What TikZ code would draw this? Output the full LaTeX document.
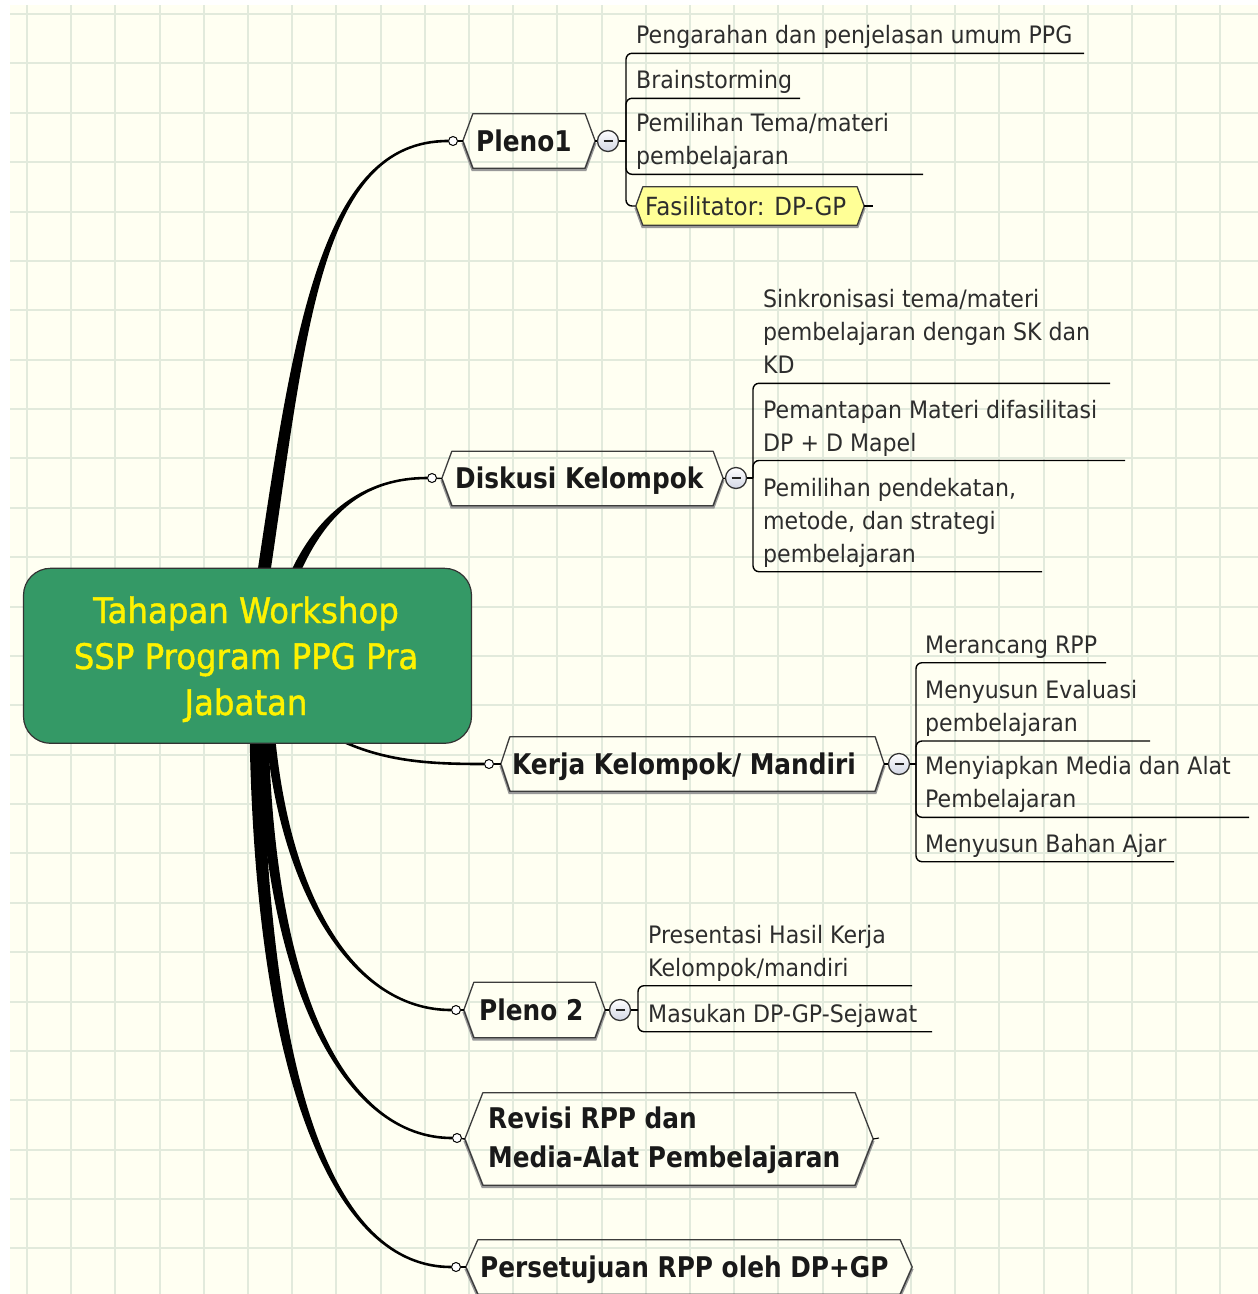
\documentclass[tikz,border=0pt]{standalone}
\usepackage{fontspec}
\setmainfont{DejaVu Sans}
\newfontfamily\rf[FakeStretch=0.92]{DejaVu Sans}
\newfontfamily\rootf[FakeStretch=0.92,FakeBold=1.2]{DejaVu Sans}
\newfontfamily\bfam[FakeStretch=0.87]{DejaVu Sans}
\usetikzlibrary{calc}
\definecolor{cream}{RGB}{255,255,242}
\definecolor{gridc}{RGB}{226,234,220}
\definecolor{rootg}{RGB}{52,153,102}
\definecolor{hexc}{RGB}{60,60,60}
\definecolor{leaftxt}{RGB}{45,45,45}
\definecolor{fasy}{RGB}{255,255,150}
\definecolor{minusc}{RGB}{210,214,228}
\newcommand\ml[1]{\begin{tabular}[b]{@{}l@{}}#1\end{tabular}}
\newcommand\mc[1]{\begin{tabular}[b]{@{}c@{}}#1\end{tabular}}
\tikzset{
 leaftext/.style={anchor=base west, inner sep=0, font=\rf\fontsize{24}{33}\selectfont, text=leaftxt},
 maintext/.style={anchor=base west, inner sep=0, font=\bfam\bfseries\fontsize{28.5}{39}\selectfont, text=black!90},
 roottext/.style={anchor=base, inner sep=0, font=\rootf\fontsize{35.2}{46}\selectfont, text=yellow},
 hexbox/.style={rectangle, inner sep=0},
 hexline/.style={draw=hexc, line width=1.3, line join=round},
 hexshadow/.style={draw=black!40, line width=3},
 leafline/.style={draw=black, line width=1.4, rounded corners=6},
 endcirc/.style={circle, draw=black, fill=white, line width=1, minimum size=9, inner sep=0},
 minus/.style={circle, draw=black!80, line width=1.3, top color=white, bottom color=minusc, minimum size=21, inner sep=0},
 branch/.style={fill=black},
 conn/.style={draw=black, line width=1.4},
 gridline/.style={draw=gridc, line width=2},
}
\newcommand\taper[7]{%
 \fill[branch] ($(#1)+(-#5,0)$) .. controls ($(#1)+(#3)+(-#5,0)$) and ($(#2)+(#4)+(0,{-(#7)*#6})$) .. ($(#2)+(0,{-(#7)*#6})$) -- ($(#2)+(0,{(#7)*#6})$) .. controls ($(#2)+(#4)+(0,{(#7)*#6})$) and ($(#1)+(#3)+(#5,0)$) .. ($(#1)+(#5,0)$) -- cycle;}
\newcommand\hexa[3]{%
 \draw[hexshadow] ([xshift=-#2pt,yshift=-1.5pt]#1.west) -- ([yshift=-1.5pt]#1.south west) -- ([yshift=-1.5pt]#1.south east) -- ([xshift=#2pt,yshift=-1.5pt]#1.east);
 \path[hexline,#3] ([xshift=-#2pt]#1.west) -- (#1.north west) -- (#1.north east) -- ([xshift=#2pt]#1.east) -- (#1.south east) -- (#1.south west) -- cycle;}
\newcommand\minussign[1]{\draw[line width=1.8, draw=black!85] ([xshift=-4.5pt]#1.center) -- ([xshift=4.5pt]#1.center);}
\begin{document}
\begin{tikzpicture}[x=1pt,y=-1pt]
\useasboundingbox (0,0) rectangle (1258,1294);
\fill[white] (0,0) rectangle (1258,1294);
\fill[cream] (10,5) rectangle (1258,1294);
\foreach \k in {0,...,27} \draw[gridline] ({27+44.2*\k},5) -- ({27+44.2*\k},1294);
\foreach \k in {0,...,25} \draw[gridline] (10,{14+49.375*\k}) -- (1258,{14+49.375*\k});

% end circles
\node[endcirc] (ec1) at (453,141) {};
\node[endcirc] (ec2) at (432,478) {};
\node[endcirc] (ec3) at (489,764) {};
\node[endcirc] (ec4) at (456,1010) {};
\node[endcirc] (ec5) at (457,1138) {};
\node[endcirc] (ec6) at (456,1267) {};

% root points
\coordinate (r1) at (262,585);
\coordinate (r2) at (290,585);
\coordinate (r3) at (330,735);
\coordinate (r4) at (270,730);
\coordinate (r5) at (263,730);
\coordinate (r6) at (256,730);

% tapered branches
\taper{r1}{ec1.west}{38,-255}{-128,0}{6.5}{1.3}{1}
\taper{r2}{ec2.west}{30,-75}{-60,0}{5}{1.3}{1}
\draw[line width=2.6] (r3) .. controls (380,762) and (430,764) .. (ec3.west);
\taper{r4}{ec4.west}{15,170}{-95,0}{4.5}{1.3}{-1}
\taper{r5}{ec5.west}{6,265}{-105,0}{5.5}{1.3}{-1}
\taper{r6}{ec6.west}{6,360}{-115,0}{6.5}{1.3}{-1}

% root box
\node[rectangle, rounded corners=27, fill=rootg, draw=black!80, line width=1.2, minimum width=448, minimum height=175] (root) at (247.5,655.8) {};
\node[roottext] (roott) at (246,715) {\mc{Tahapan Workshop\\SSP Program PPG Pra\\Jabatan}};

% main nodes
\node[hexbox, minimum width=112, minimum height=54] (p1) at (529,141) {};
\hexa{p1}{10}{}
\node[maintext] (p1t) at (476,151.4) {Pleno1};

\node[hexbox, minimum width=261, minimum height=54] (dk) at (582.5,478.5) {};
\hexa{dk}{10}{}
\node[maintext] (dkt) at (455,488.9) {Diskusi Kelompok};

\node[hexbox, minimum width=365, minimum height=54] (kk) at (692.5,764) {};
\hexa{kk}{9}{}
\node[maintext] (kkt) at (512,774.4) {Kerja Kelompok/ Mandiri};

\node[hexbox, minimum width=121, minimum height=55] (p2) at (534.5,1010) {};
\hexa{p2}{10}{}
\node[maintext] (p2t) at (479,1020.4) {Pleno 2};

\node[hexbox, minimum width=372, minimum height=92] (rv) at (669,1139) {};
\hexa{rv}{18}{}
\node[maintext] (rvt) at (488,1167.4) {\ml{Revisi RPP dan\\Media-Alat Pembelajaran}};

\node[hexbox, minimum width=422, minimum height=54] (ps) at (689,1267) {};
\hexa{ps}{12}{}
\node[maintext] (pst) at (480,1277.4) {Persetujuan RPP oleh DP+GP};

% connectors circle -> hexagon
\draw[conn] (ec1) -- ([xshift=-10pt]p1.west);
\draw[conn] (ec2) -- ([xshift=-10pt]dk.west);
\draw[conn] (ec3) -- ([xshift=-9pt]kk.west);
\draw[conn] (ec4) -- ([xshift=-10pt]p2.west);
\draw[conn] (ec5) -- ([xshift=-18pt]rv.west);
\draw[conn] (ec6) -- ([xshift=-12pt]ps.west);

% minus circles
\node[minus] (m1) at (608,141) {};
\node[minus] (m2) at (736,478) {};
\node[minus] (m3) at (899,764) {};
\node[minus] (m4) at (620,1010) {};
\minussign{m1}\minussign{m2}\minussign{m3}\minussign{m4}
\draw[conn] ([xshift=10pt]p1.east) -- (m1);
\draw[conn] ([xshift=10pt]dk.east) -- (m2);
\draw[conn] ([xshift=9pt]kk.east) -- (m3);
\draw[conn] ([xshift=10pt]p2.east) -- (m4);

% joints
\coordinate (j1) at (626,141);
\coordinate (j2) at (753,478);
\coordinate (j3) at (916,764);
\coordinate (j4) at (638,1010);
\draw[conn] (m1) -- (j1);
\draw[conn] (m2) -- (j2);
\draw[conn] (m3) -- (j3);
\draw[conn] (m4) -- (j4);

% Pleno1 leaves
\coordinate (u11) at (1084,53.3);
\coordinate (u12) at (800,98.3);
\coordinate (u13) at (923,174.3);
\draw[leafline] (j1) |- (u11);
\draw[leafline] (j1) |- (u12);
\draw[leafline] (j1) |- (u13);
\node[leaftext] (l11) at (636,43.8) {Pengarahan dan penjelasan umum PPG};
\node[leaftext] (l12) at (636,88.8) {Brainstorming};
\node[leaftext] (l13) at (636,164.8) {\ml{Pemilihan Tema/materi\\pembelajaran}};

\node[hexbox, minimum width=214, minimum height=38] (fb) at (750,206) {};
\draw[leafline] (j1) |- ([xshift=-7pt]fb.west);
\hexa{fb}{7}{fill=fasy}
\node[leaftext, font=\rf\fontsize{25}{33}\selectfont] (fbt) at (645,215) {Fasilitator: DP-GP};
\coordinate (fbtick) at (873,206);
\draw[line width=1.1] ([xshift=7pt]fb.east) -- (fbtick);

% Diskusi leaves
\coordinate (u21) at (1110,383.3);
\coordinate (u22) at (1125,460.5);
\coordinate (u23) at (1042,571.7);
\draw[leafline] (j2) |- (u21);
\draw[leafline] (j2) |- (u22);
\draw[leafline] (j2) |- (u23);
\node[leaftext] (l21) at (763,373.8) {\ml{Sinkronisasi tema/materi\\pembelajaran dengan SK dan\\KD}};
\node[leaftext] (l22) at (763,451) {\ml{Pemantapan Materi difasilitasi\\DP + D Mapel}};
\node[leaftext] (l23) at (763,562.2) {\ml{Pemilihan pendekatan,\\metode, dan strategi\\pembelajaran}};

% Kerja leaves
\coordinate (u31) at (1106,662.7);
\coordinate (u32) at (1150,741);
\coordinate (u33) at (1249,817.3);
\coordinate (u34) at (1174,861.7);
\draw[leafline] (j3) |- (u31);
\draw[leafline] (j3) |- (u32);
\draw[leafline] (j3) |- (u33);
\draw[leafline] (j3) |- (u34);
\node[leaftext] (l31) at (925,653.2) {Merancang RPP};
\node[leaftext] (l32) at (925,731.5) {\ml{Menyusun Evaluasi\\pembelajaran}};
\node[leaftext] (l33) at (925,807.8) {\ml{Menyiapkan Media dan Alat\\Pembelajaran}};
\node[leaftext] (l34) at (925,852.2) {Menyusun Bahan Ajar};

% Pleno 2 leaves
\coordinate (u41) at (912,985.7);
\coordinate (u42) at (932,1031.7);
\draw[leafline] (j4) |- (u41);
\draw[leafline] (j4) |- (u42);
\node[leaftext] (l41) at (648,976.2) {\ml{Presentasi Hasil Kerja\\Kelompok/mandiri}};
\node[leaftext] (l42) at (648,1022.2) {Masukan DP-GP-Sejawat};

% Revisi tick
\coordinate (rvtick) at (879,1138);
\draw[line width=1.1] ([xshift=18pt]rv.east) -- (rvtick);
\end{tikzpicture}
\end{document}
